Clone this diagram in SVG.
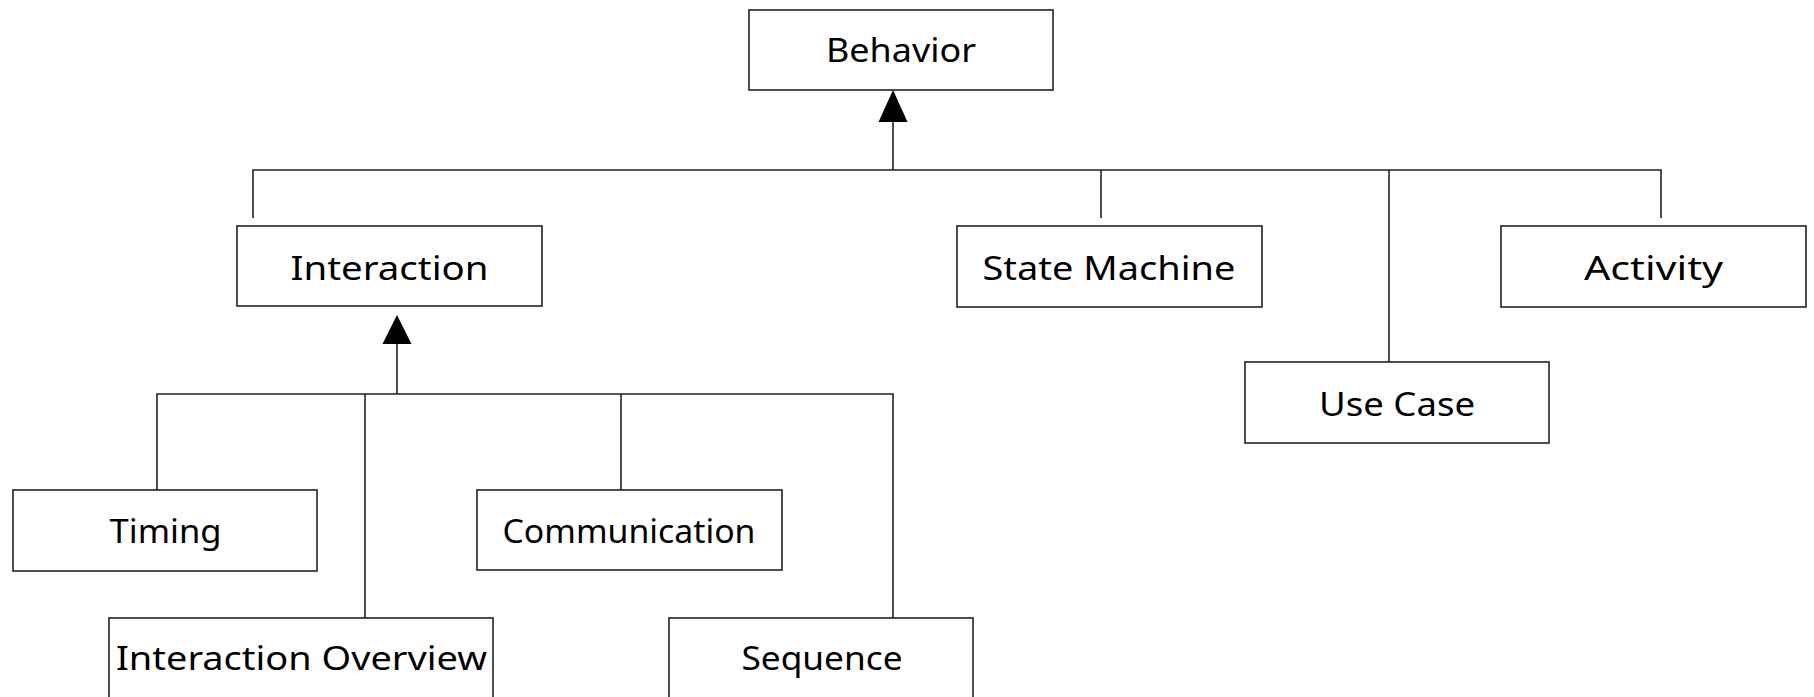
<svg xmlns="http://www.w3.org/2000/svg" width="1814" height="697" viewBox="0 0 1814 697">
<style>
.box{fill:#fff;stroke:#222;stroke-width:1.6}
.lbl{font-family:"Noto Sans","DejaVu Sans",sans-serif;font-size:33px;fill:#000;text-anchor:middle}
.ln{fill:none;stroke:#222;stroke-width:1.6}
.ah{fill:#000;stroke:none}
</style>
<rect x="0" y="0" width="1814" height="697" fill="#fff"/>
<g id="connectors">
<polyline class="ln" points="893,122 893,170"/>
<polygon class="ah" points="893,90 878.5,122 907.5,122"/>
<polyline class="ln" points="253,218 253,170 1661,170 1661,218"/>
<line class="ln" x1="1101" y1="170" x2="1101" y2="218"/>
<line class="ln" x1="1389" y1="170" x2="1389" y2="362"/>
<polyline class="ln" points="397,344 397,394"/>
<polygon class="ah" points="397,315 382.5,344 411.5,344"/>
<polyline class="ln" points="157,490 157,394 893,394 893,618"/>
<line class="ln" x1="365" y1="394" x2="365" y2="618"/>
<line class="ln" x1="621" y1="394" x2="621" y2="490"/>
</g>
<g id="behavior"><rect class="box" x="749" y="10" width="304" height="80"/><text class="lbl" x="901" y="62" textLength="150" lengthAdjust="spacingAndGlyphs">Behavior</text></g>
<g id="interaction"><rect class="box" x="237" y="226" width="305" height="80"/><text class="lbl" x="389.5" y="280" textLength="198" lengthAdjust="spacingAndGlyphs">Interaction</text></g>
<g id="state-machine"><rect class="box" x="957" y="226" width="305" height="81"/><text class="lbl" x="1109" y="280" textLength="253" lengthAdjust="spacingAndGlyphs">State Machine</text></g>
<g id="activity"><rect class="box" x="1501" y="226" width="305" height="81"/><text class="lbl" x="1653.5" y="280" textLength="139" lengthAdjust="spacingAndGlyphs">Activity</text></g>
<g id="use-case"><rect class="box" x="1245" y="362" width="304" height="81"/><text class="lbl" x="1397" y="416" textLength="156" lengthAdjust="spacingAndGlyphs">Use Case</text></g>
<g id="timing"><rect class="box" x="13" y="490" width="304" height="81"/><text class="lbl" x="165.5" y="543" textLength="112" lengthAdjust="spacingAndGlyphs">Timing</text></g>
<g id="communication"><rect class="box" x="477" y="490" width="305" height="80"/><text class="lbl" x="629" y="543" textLength="253" lengthAdjust="spacingAndGlyphs">Communication</text></g>
<g id="interaction-overview"><rect class="box" x="109" y="618" width="384" height="82"/><text class="lbl" x="301.5" y="670" textLength="371" lengthAdjust="spacingAndGlyphs">Interaction Overview</text></g>
<g id="sequence"><rect class="box" x="669" y="618" width="304" height="82"/><text class="lbl" x="822" y="670" textLength="161" lengthAdjust="spacingAndGlyphs">Sequence</text></g>
</svg>
